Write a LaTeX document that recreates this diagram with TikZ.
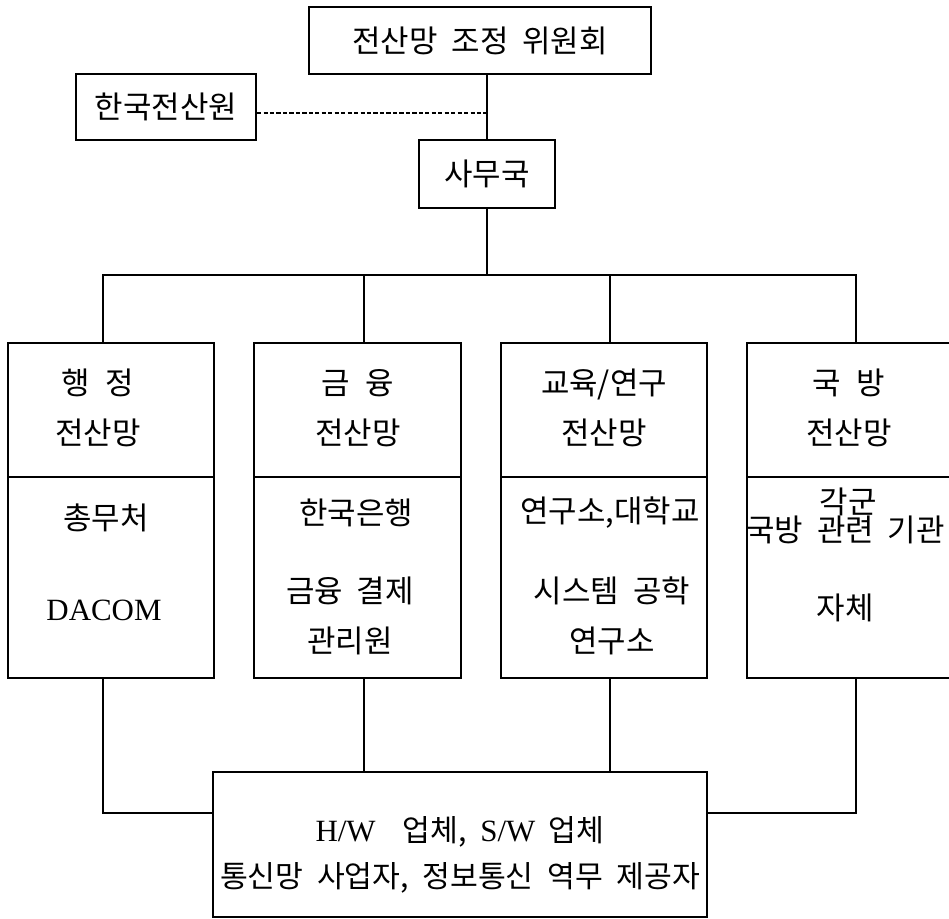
\documentclass[tikz,border=0pt]{standalone}
\usepackage{fontspec}
\setmainfont{Liberation Serif}
\newfontfamily\krfont[WordSpace=2.0]{Noto Sans CJK KR}
\usetikzlibrary{math,calc}

\tikzset{
	orgbox/.style={draw, line width=1.45pt, inner sep=0pt},
	link/.style={line width=1.45pt},
	txt/.style={font=\krfont\fontsize{22}{35.5}\selectfont, align=center, inner sep=0pt},
	lat/.style={font=\rmfamily\fontsize{22}{33}\selectfont, inner sep=0pt},
}

\begin{document}
\begin{tikzpicture}[x=0.025cm, y=-0.025cm]
	% Constants (box sizes in cm, positions in scan pixels)
	\tikzmath{\colw = 5.15; \headh = 3.35; \bodyh = 5.025; \dropa = 103; \dropb = 364; \dropc = 610; \dropd = 856;}
	\useasboundingbox (0,0) rectangle (949,919);

	% Top of the chart
	\node[orgbox, txt, minimum width=8.55cm, minimum height=1.675cm] (comm) at (480,40.5) {전산망 조정 위원회};
	\node[orgbox, txt, minimum width=4.5cm, minimum height=1.65cm] (kcc) at (166,107) {한국전산원};
	\node[orgbox, txt, minimum width=3.4cm, minimum height=1.7cm] (sec) at (487,174) {사무국};
	\coordinate (bus) at (487,275);
	\coordinate (joinrow) at (0,813);

	% Networks
	\node[orgbox, minimum width=\colw cm, minimum height=\headh cm] (head1) at (111,410) {};
	\node[orgbox, minimum width=\colw cm, minimum height=\bodyh cm] (body1) at (111,577.5) {};
	\node[orgbox, minimum width=\colw cm, minimum height=\headh cm] (head2) at (357.5,410) {};
	\node[orgbox, minimum width=\colw cm, minimum height=\bodyh cm] (body2) at (357.5,577.5) {};
	\node[orgbox, minimum width=\colw cm, minimum height=\headh cm] (head3) at (604,410) {};
	\node[orgbox, minimum width=\colw cm, minimum height=\bodyh cm] (body3) at (604,577.5) {};
	\node[orgbox, minimum width=\colw cm, minimum height=\headh cm] (head4) at (850.5,410) {};
	\node[orgbox, minimum width=\colw cm, minimum height=\bodyh cm] (body4) at (850.5,577.5) {};

	% Network labels
	\node[txt] (name1) at (98,408) {행\hspace{.5em}정\\전산망};
	\node[txt] (name2) at (358,408) {금\hspace{.5em}융\\전산망};
	\node[txt] (name3) at (604,408) {교육/연구\\전산망};
	\node[txt] (name4) at (849,408) {국\hspace{.5em}방\\전산망};

	\node[txt] (orga) at (106,518) {총무처};
	\node[lat] (orgb) at (104,610) {DACOM};
	\node[txt] (orgc) at (356,513) {한국은행};
	\node[txt] (orgd) at (350,616) {금융 결제\\관리원};
	\node[txt] (orge) at (610,513) {연구소,대학교};
	\node[txt] (orgf) at (612,616) {시스템 공학\\연구소};
	\node[txt] (orgg) at (848,502) {각군};
	\node[txt, anchor=west] (orgh) at (746,530) {국방 관련 기관};
	\node[txt] (orgi) at (845,608) {자체};

	% Vendors
	\node[orgbox, minimum width=12.35cm, minimum height=3.625cm] (vend) at (460,844.5) {};
	\node[txt, font=\krfont\fontsize{21.5}{32.5}\selectfont] (vendtxt) at (460,855)
		{{\rmfamily\fontsize{22}{32.5}\selectfont H/W}\ \ 업체, {\rmfamily\fontsize{22}{32.5}\selectfont S/W} 업체\\통신망 사업자, 정보통신 역무 제공자};

	% Links
	\draw[link] (sec.north |- comm.south) -- (sec.north);
	\draw[link, dash pattern=on 3pt off 1.6pt] ([yshift=-0.15cm]kcc.east) -- ([yshift=-0.15cm]kcc.east -| sec.north);
	\draw[link] (sec.south) -- (bus);
	\draw[link] (head1.north -| \dropa,0) |- (bus) -| (head4.north -| \dropd,0);
	\draw[link] (head2.north -| \dropb,0) -- (bus -| \dropb,0);
	\draw[link] (head3.north -| \dropc,0) -- (bus -| \dropc,0);
	\draw[link] (body1.south -| \dropa,0) |- (vend.west |- joinrow);
	\draw[link] (body4.south -| \dropd,0) |- (vend.east |- joinrow);
	\draw[link] (body2.south -| \dropb,0) -- (vend.north -| \dropb,0);
	\draw[link] (body3.south -| \dropc,0) -- (vend.north -| \dropc,0);
\end{tikzpicture}
\end{document}
